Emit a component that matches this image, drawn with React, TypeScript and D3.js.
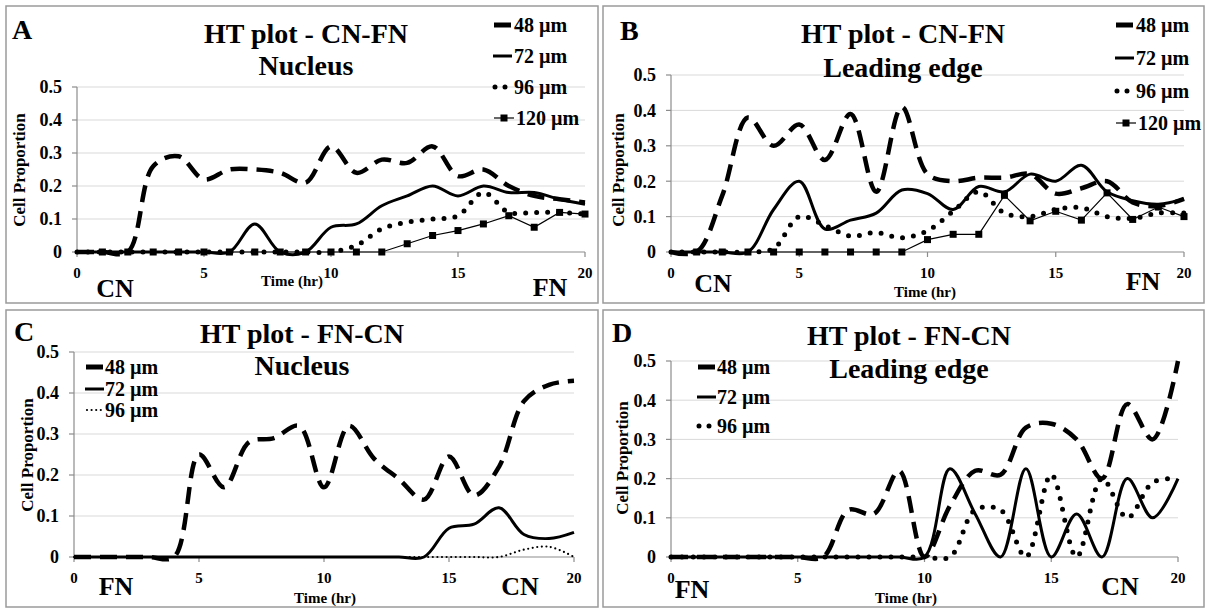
import React from 'react';
import * as d3 from 'd3';

// ---- data ----
const hours = [0, 1, 2, 3, 4, 5, 6, 7, 8, 9, 10, 11, 12, 13, 14, 15, 16, 17, 18, 19, 20];
const hours120 = [1, 2, 3, 4, 5, 6, 7, 8, 9, 10, 11, 12, 13, 14, 15, 16, 17, 18, 19, 20];
const yTicks = [0, 0.1, 0.2, 0.3, 0.4, 0.5];
const yTickLabels = ['0', '0.1', '0.2', '0.3', '0.4', '0.5'];
const xTicks = [0, 5, 10, 15, 20];
const xTickLabels = ['0', '5', '10', '15', '20'];
const seriesNames = ['48 µm', '72 µm', '96 µm', '120 µm'];

// Panel A: CN-FN Nucleus
const a48 = [0, 0, 0, 0.26, 0.29, 0.22, 0.25, 0.25, 0.24, 0.21, 0.32, 0.24, 0.28, 0.27, 0.32, 0.23, 0.25, 0.2, 0.17, 0.16, 0.15];
const a72 = [0, 0, 0, 0, 0, 0, 0, 0.085, 0, 0, 0.075, 0.085, 0.14, 0.17, 0.2, 0.17, 0.2, 0.18, 0.18, 0.16, 0.145];
const a96 = [0, 0, 0, 0, 0, 0, 0, 0, 0, 0, 0, 0.02, 0.07, 0.09, 0.1, 0.11, 0.18, 0.12, 0.12, 0.12, 0.115];
const a120 = [0, 0, 0, 0, 0, 0, 0, 0, 0, 0, 0, 0, 0.025, 0.05, 0.065, 0.085, 0.11, 0.075, 0.12, 0.115];

// Panel B: CN-FN Leading edge
const b48 = [0, 0, 0.16, 0.38, 0.3, 0.36, 0.26, 0.39, 0.17, 0.41, 0.22, 0.2, 0.21, 0.21, 0.22, 0.165, 0.18, 0.2, 0.14, 0.13, 0.15];
const b72 = [0, 0, 0, 0, 0.12, 0.2, 0.065, 0.09, 0.11, 0.175, 0.165, 0.12, 0.185, 0.17, 0.22, 0.2, 0.245, 0.17, 0.145, 0.135, 0.15];
const b96 = [0, 0, 0, 0, 0.01, 0.1, 0.075, 0.045, 0.055, 0.04, 0.06, 0.115, 0.17, 0.11, 0.1, 0.12, 0.125, 0.1, 0.095, 0.11, 0.11];
const b120 = [0, 0, 0, 0, 0, 0, 0, 0, 0, 0.035, 0.05, 0.05, 0.16, 0.088, 0.115, 0.09, 0.167, 0.092, 0.127, 0.1];

// Panel C: FN-CN Nucleus
const c48 = [0, 0, 0, 0, 0, 0.25, 0.17, 0.28, 0.29, 0.32, 0.17, 0.32, 0.24, 0.19, 0.14, 0.245, 0.15, 0.22, 0.38, 0.42, 0.43];
const c72 = [0, 0, 0, 0, 0, 0, 0, 0, 0, 0, 0, 0, 0, 0, 0, 0.07, 0.08, 0.12, 0.055, 0.045, 0.06];
const c96 = [0, 0, 0, 0, 0, 0, 0, 0, 0, 0, 0, 0, 0, 0, 0, 0, 0, 0, 0.018, 0.025, 0];

// Panel D: FN-CN Leading edge
const d48 = [0, 0, 0, 0, 0, 0, 0, 0.12, 0.11, 0.22, 0, 0.13, 0.22, 0.21, 0.33, 0.34, 0.3, 0.2, 0.39, 0.3, 0.5];
const d72 = [0, 0, 0, 0, 0, 0, 0, 0, 0, 0, 0, 0.225, 0.11, 0, 0.225, 0, 0.11, 0, 0.2, 0.1, 0.2];
const d96 = [0, 0, 0, 0, 0, 0, 0, 0, 0, 0, 0, 0, 0.12, 0.12, 0, 0.21, 0, 0.2, 0.1, 0.19, 0.2];

// ---- layout ----
const FONT = "'Liberation Serif', 'Times New Roman', serif";
const GRID = '#d9d9d9';
const AXIS = '#8c8c8c';
const FRAME = '#9a9a9a';

type Panel = {
  letter: string;
  frame: [number, number, number, number];
  x0: number; x1: number; yb: number; yt: number;
  title: string[]; titleX: number; titleY: number[];
  letterXY: [number, number];
  xTickY: number;
  timeXY: [number, number];
  ylabXY: [number, number];
  ends: { text: string; x: number; y: number }[];
  legendX: number; legendTextX: number; legendYs: number[];
  s48: number[]; s72: number[]; s96: number[]; s120?: number[];
  fineDots?: boolean;
};

const panels: Panel[] = [
  {
    letter: 'A', frame: [6, 6, 592, 297], x0: 77, x1: 585, yb: 252, yt: 87,
    title: ['HT plot - CN-FN', 'Nucleus'], titleX: 306, titleY: [43, 75], letterXY: [12, 39],
    xTickY: 278, timeXY: [292, 286], ylabXY: [19, 170],
    ends: [{ text: 'CN', x: 115, y: 297 }, { text: 'FN', x: 550, y: 296 }],
    legendX: 493, legendTextX: 514, legendYs: [25, 56, 87, 118],
    s48: a48, s72: a72, s96: a96, s120: a120,
  },
  {
    letter: 'B', frame: [603, 6, 601, 297], x0: 671, x1: 1184, yb: 252, yt: 75,
    title: ['HT plot - CN-FN', 'Leading edge'], titleX: 903, titleY: [43, 77], letterXY: [620, 40],
    xTickY: 278, timeXY: [925, 297], ylabXY: [618, 170],
    ends: [{ text: 'CN', x: 713, y: 292 }, { text: 'FN', x: 1143, y: 290 }],
    legendX: 1115, legendTextX: 1136, legendYs: [25, 58, 91, 123],
    s48: b48, s72: b72, s96: b96, s120: b120,
  },
  {
    letter: 'C', frame: [6, 310, 592, 297], x0: 74, x1: 574, yb: 557, yt: 352,
    title: ['HT plot - FN-CN', 'Nucleus'], titleX: 302, titleY: [343, 375], letterXY: [14, 341],
    xTickY: 583, timeXY: [325, 603], ylabXY: [27, 455],
    ends: [{ text: 'FN', x: 116, y: 595 }, { text: 'CN', x: 520, y: 595 }],
    legendX: 85, legendTextX: 105, legendYs: [367, 389, 410],
    s48: c48, s72: c72, s96: c96, fineDots: true,
  },
  {
    letter: 'D', frame: [603, 310, 601, 297], x0: 671, x1: 1178, yb: 557, yt: 361,
    title: ['HT plot - FN-CN', 'Leading edge'], titleX: 909, titleY: [345, 378], letterXY: [612, 342],
    xTickY: 583, timeXY: [906, 603], ylabXY: [622, 458],
    ends: [{ text: 'FN', x: 692, y: 598 }, { text: 'CN', x: 1120, y: 595 }],
    legendX: 697, legendTextX: 717, legendYs: [367, 397, 426],
    s48: d48, s72: d72, s96: d96,
  },
];

function PanelView({ p }: { p: Panel }) {
  const x = d3.scaleLinear().domain([0, 20]).range([p.x0, p.x1]);
  const y = d3.scaleLinear().domain([0, 0.5]).range([p.yb, p.yt]);
  const smooth = d3.line<number>()
    .x((_, i) => x(hours[i]))
    .y((v) => y(v))
    .curve(d3.curveCatmullRom.alpha(0.5));
  const straight = d3.line<number>()
    .x((_, i) => x(hours120[i]))
    .y((v) => y(v));

  const dot96 = p.fineDots
    ? { w: 2.2, dash: '0 4.6' }
    : { w: 5, dash: '0 11' };

  const legendItems = p.s120 ? seriesNames : seriesNames.slice(0, 3);

  return (
    <g>
      <rect x={p.frame[0]} y={p.frame[1]} width={p.frame[2]} height={p.frame[3]} fill="#fff" stroke={FRAME} strokeWidth={1.5} />
      {yTicks.slice(1).map((t) => (
        <line key={'g' + t} x1={p.x0} x2={p.x1} y1={y(t)} y2={y(t)} stroke={GRID} strokeWidth={1} />
      ))}
      <line x1={p.x0} x2={p.x0} y1={y(0.5)} y2={y(0)} stroke={AXIS} strokeWidth={1.2} />
      <line x1={p.x0} x2={p.x1} y1={y(0)} y2={y(0)} stroke={AXIS} strokeWidth={1.2} />
      {yTicks.map((t) => (
        <line key={'yt' + t} x1={p.x0 - 5} x2={p.x0} y1={y(t)} y2={y(t)} stroke={AXIS} strokeWidth={1.2} />
      ))}
      {xTicks.map((t) => (
        <line key={'xt' + t} x1={x(t)} x2={x(t)} y1={y(0)} y2={y(0) + 5} stroke={AXIS} strokeWidth={1.2} />
      ))}
      {yTicks.map((t, i) => (
        <text key={'yl' + t} x={p.x0 - 15} y={y(t)} dy="0.35em" textAnchor="end" fontFamily={FONT} fontWeight="bold" fontSize={18}>{yTickLabels[i]}</text>
      ))}
      {xTicks.map((t, i) => (
        <text key={'xl' + t} x={x(t)} y={p.xTickY} textAnchor="middle" fontFamily={FONT} fontWeight="bold" fontSize={15}>{xTickLabels[i]}</text>
      ))}
      <path d={smooth(p.s48) || ''} fill="none" stroke="#000" strokeWidth={4.5} strokeDasharray="17 9" />
      <path d={smooth(p.s72) || ''} fill="none" stroke="#000" strokeWidth={3} />
      <path d={smooth(p.s96) || ''} fill="none" stroke="#000" strokeWidth={dot96.w} strokeDasharray={dot96.dash} strokeLinecap="round" />
      {p.s120 && (
        <g>
          <path d={straight(p.s120) || ''} fill="none" stroke="#000" strokeWidth={1.2} />
          {p.s120.map((v, i) => (
            <rect key={'m' + i} x={x(hours120[i]) - 3.5} y={y(v) - 3.5} width={7} height={7} fill="#000" />
          ))}
        </g>
      )}
      <text x={p.letterXY[0]} y={p.letterXY[1]} fontFamily={FONT} fontWeight="bold" fontSize={28}>{p.letter}</text>
      {p.title.map((t, i) => (
        <text key={'t' + i} x={p.titleX} y={p.titleY[i]} textAnchor="middle" fontFamily={FONT} fontWeight="bold" fontSize={28}>{t}</text>
      ))}
      <text x={p.timeXY[0]} y={p.timeXY[1]} textAnchor="middle" fontFamily={FONT} fontWeight="bold" fontSize={15}>Time (hr)</text>
      <text transform={`translate(${p.ylabXY[0]},${p.ylabXY[1]}) rotate(-90)`} dy="0.35em" textAnchor="middle" fontFamily={FONT} fontWeight="bold" fontSize={17}>Cell Proportion</text>
      {p.ends.map((e) => (
        <text key={e.text} x={e.x} y={e.y} textAnchor="middle" fontFamily={FONT} fontWeight="bold" fontSize={26}>{e.text}</text>
      ))}
      {legendItems.map((name, i) => {
        const ly = p.legendYs[i];
        const lx = p.legendX;
        let sym: React.ReactNode = null;
        if (i === 0) sym = <line x1={lx + 1} x2={lx + 18} y1={ly} y2={ly} stroke="#000" strokeWidth={5} />;
        else if (i === 1) sym = <line x1={lx} x2={lx + 19} y1={ly} y2={ly} stroke="#000" strokeWidth={3} />;
        else if (i === 2) sym = p.fineDots
          ? <line x1={lx + 2} x2={lx + 18} y1={ly} y2={ly} stroke="#000" strokeWidth={2.2} strokeDasharray="0 4.6" strokeLinecap="round" />
          : <line x1={lx + 2} x2={lx + 14} y1={ly} y2={ly} stroke="#000" strokeWidth={5} strokeDasharray="0 10" strokeLinecap="round" />;
        else sym = (
          <g>
            <line x1={lx + 1} x2={lx + 21} y1={ly} y2={ly} stroke="#000" strokeWidth={1.2} />
            <rect x={lx + 7.5} y={ly - 3.5} width={7} height={7} fill="#000" />
          </g>
        );
        return (
          <g key={name}>
            {sym}
            <text x={p.legendTextX + (i === 3 ? 2 : 0)} y={ly} dy="0.35em" fontFamily={FONT} fontWeight="bold" fontSize={20}>{name}</text>
          </g>
        );
      })}
    </g>
  );
}

export default function App() {
  return (
    <svg width={1207} height={610} style={{ position: 'absolute', left: 0, top: 0, background: '#fff' }}>
      <rect x={0} y={0} width={1207} height={610} fill="#fff" />
      {panels.map((p) => (
        <PanelView key={p.letter} p={p} />
      ))}
    </svg>
  );
}
